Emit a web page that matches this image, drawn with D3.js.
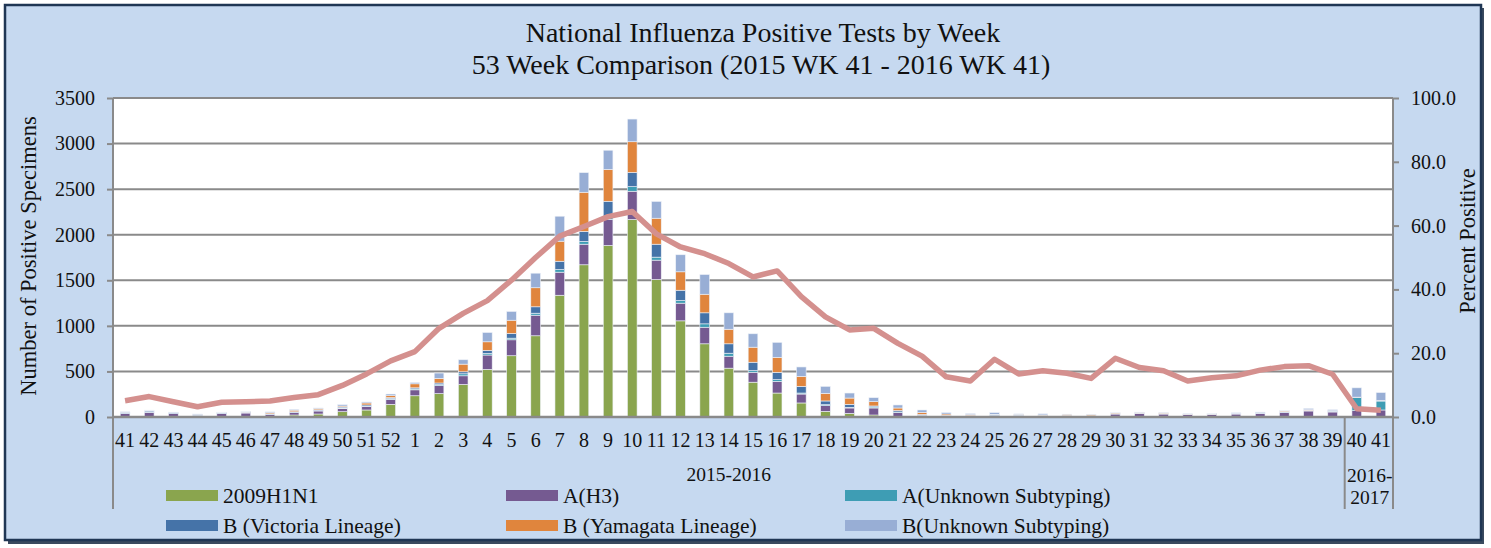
<!DOCTYPE html>
<html>
<head>
<meta charset="utf-8">
<script src="https://cdn.jsdelivr.net/npm/d3@7"></script>
<style>
body{margin:0;background:#fff;}
text{font-family:"Liberation Serif","Times New Roman",serif;fill:#111;}
</style>
</head>
<body>
<script>
// week labels, 2015 wk 41 .. 2016 wk 41
var weeks=[41,42,43,44,45,46,47,48,49,50,51,52,1,2,3,4,5,6,7,8,9,10,11,12,13,14,15,16,17,18,19,20,21,22,23,24,25,26,27,28,29,30,31,32,33,34,35,36,37,38,39,40,41];

var h1n1=[5,5,3,2,3,5,5,22,33,58,77,139,233,257,357,523,672,891,1336,1670,1882,2167,1509,1055,803,536,382,263,154,62,40,22,7,4,3,2,3,2,2,2,2,2,2,2,2,2,2,2,3,3,2,3,3];
var h3=[32,46,34,16,34,39,24,26,33,33,36,55,65,87,95,157,175,226,253,226,285,310,212,194,182,131,109,128,98,62,59,77,41,11,8,9,12,16,13,13,9,31,38,31,24,27,31,38,48,63,53,67,74];
var aUnk=[3,3,2,2,2,2,2,3,5,8,5,8,10,11,22,17,18,22,29,30,30,50,33,29,37,33,19,19,11,11,7,11,7,3,2,2,2,1,1,1,1,1,1,1,1,1,1,1,2,3,8,142,98];
var bVic=[8,12,8,6,6,8,4,6,8,11,14,10,12,18,22,33,51,70,91,110,170,156,142,113,121,103,91,80,73,41,33,11,15,11,6,4,8,3,3,2,2,2,2,2,2,2,2,3,4,5,3,4,4];
var bYam=[2,2,2,2,2,3,13,18,15,11,22,22,44,51,84,95,146,209,220,430,350,337,285,202,204,160,165,165,110,84,69,47,29,22,14,10,5,8,4,11,12,10,8,9,3,3,4,4,10,6,3,2,2];
var bUnk=[7,7,4,5,6,5,8,9,5,14,11,18,14,58,48,102,96,160,274,215,210,249,184,187,216,180,147,164,103,76,55,44,33,26,15,10,18,4,12,2,2,2,2,2,3,5,6,6,6,14,11,102,87];

var pctPos=[5.1,6.4,4.8,3.2,4.6,4.8,5.0,6.1,7.0,9.9,13.5,17.6,20.5,27.8,32.5,36.5,42.9,50.0,56.7,59.7,62.8,64.4,57.4,53.3,51.2,48.1,43.9,45.8,37.7,31.4,27.3,27.8,23.1,19.1,12.6,11.3,18.1,13.5,14.5,13.7,12.1,18.4,15.5,14.5,11.3,12.3,12.9,14.7,15.8,16.1,13.4,2.6,2.1];

var seriesNames=["2009H1N1","A(H3)","A(Unknown Subtyping)","B (Victoria Lineage)","B (Yamagata Lineage)","B(Unknown Subtyping)"];
var seriesColors=["#8aa54e","#755a91","#3e9db4","#4573a8","#e0853d","#98aed5"];
var leftTicks=[0,500,1000,1500,2000,2500,3000,3500];
var rightTicks=[0,20,40,60,80,100];
var seasons=[{label:["2015-2016"],from:0,to:50},{label:["2016-","2017"],from:51,to:52}];

var W=1491,H=548;
var plot={left:113,right:1393,top:98,bottom:417};

var svg=d3.select("body").append("svg").attr("width",W).attr("height",H);

// frame
svg.append("rect").attr("x",8).attr("y",8).attr("width",1476).attr("height",536).attr("fill","#3a4a5e");
svg.append("rect").attr("x",5).attr("y",5).attr("width",1476).attr("height",535)
	.attr("fill","#c6d9f0").attr("stroke","#1f3654").attr("stroke-width",2.5);

// title
svg.append("text").attr("x",763).attr("y",42).attr("text-anchor","middle").style("font-size","28px")
	.text("National Influenza Positive Tests by Week");
svg.append("text").attr("x",761).attr("y",74).attr("text-anchor","middle").style("font-size","28px")
	.text("53 Week Comparison (2015 WK 41 - 2016 WK 41)");

var x=d3.scaleBand().domain(d3.range(weeks.length)).range([plot.left,plot.right])
	.paddingInner(0.6).paddingOuter(0.3);
var y=d3.scaleLinear().domain([0,3500]).range([plot.bottom,plot.top]);
var yR=d3.scaleLinear().domain([0,100]).range([plot.bottom,plot.top]);

svg.append("rect").attr("x",plot.left).attr("y",plot.top).attr("width",plot.right-plot.left)
	.attr("height",plot.bottom-plot.top).attr("fill","#fff");

// gridlines
svg.append("g").selectAll("line").data(leftTicks.slice(1)).enter().append("line")
	.attr("x1",plot.left).attr("x2",plot.right)
	.attr("y1",function(d){return y(d);}).attr("y2",function(d){return y(d);})
	.attr("stroke","#8a8a8a").attr("stroke-width",2);

// stacked bars
var rows=weeks.map(function(w,i){
	return {i:i,s0:h1n1[i],s1:h3[i],s2:aUnk[i],s3:bVic[i],s4:bYam[i],s5:bUnk[i]};
});
var keys=["s0","s1","s2","s3","s4","s5"];
var stacked=d3.stack().keys(keys)(rows);

svg.append("g").selectAll("g").data(stacked).enter().append("g")
	.attr("fill",function(d,k){return seriesColors[k];})
	.selectAll("rect").data(function(d){return d;}).enter().append("rect")
	.attr("x",function(d){return x(d.data.i);})
	.attr("width",x.bandwidth())
	.attr("y",function(d){return y(d[1]);})
	.attr("height",function(d){return Math.max(0,y(d[0])-y(d[1]));})
	.attr("stroke","#eef2f8").attr("stroke-width",0.6);

// percent positive line
var line=d3.line()
	.x(function(d,i){return x(i)+x.bandwidth()/2;})
	.y(function(d){return yR(d);});
svg.append("path").datum(pctPos).attr("d",line).attr("fill","none")
	.attr("stroke","#d4908e").attr("stroke-width",5.5).attr("stroke-linejoin","round");

// axes
var axL=svg.append("g").attr("transform","translate("+plot.left+",0)")
	.call(d3.axisLeft(y).tickValues(leftTicks).tickSize(6).tickPadding(12).tickFormat(d3.format("d")));
var axR=svg.append("g").attr("transform","translate("+plot.right+",0)")
	.call(d3.axisRight(yR).tickValues(rightTicks).tickSize(6).tickPadding(12).tickFormat(d3.format(".1f")));
[axL,axR].forEach(function(a){
	a.select(".domain").remove();
	a.selectAll("line").attr("stroke","#8a8a8a").attr("stroke-width",2);
	a.selectAll("text").style("font-size","20px").attr("fill","#111");
});

// axis lines
svg.append("line").attr("x1",plot.left).attr("x2",plot.left).attr("y1",plot.top).attr("y2",509)
	.attr("stroke","#8a8a8a").attr("stroke-width",2);
svg.append("line").attr("x1",plot.right).attr("x2",plot.right).attr("y1",plot.top).attr("y2",509)
	.attr("stroke","#8a8a8a").attr("stroke-width",2);
svg.append("line").attr("x1",plot.left).attr("x2",plot.right).attr("y1",plot.bottom).attr("y2",plot.bottom)
	.attr("stroke","#8a8a8a").attr("stroke-width",2.5);

// week labels
svg.append("g").selectAll("text").data(weeks).enter().append("text")
	.attr("x",function(d,i){return x(i)+x.bandwidth()/2;})
	.attr("y",447).attr("text-anchor","middle").style("font-size","20px")
	.text(function(d){return d;});

// season labels and separator
seasons.forEach(function(s){
	var cx=(x(s.from)+x(s.to)+x.bandwidth())/2;
	s.label.forEach(function(t,j){
		svg.append("text").attr("x",cx+(s.label.length>1?1:0)).attr("y",(s.label.length>1?482:481)+j*22)
			.attr("text-anchor","middle").style("font-size","19.5px").text(t);
	});
});
var sepX=(x(50)+x(51)+x.bandwidth())/2;
svg.append("line").attr("x1",sepX).attr("x2",sepX).attr("y1",plot.bottom).attr("y2",509)
	.attr("stroke","#8a8a8a").attr("stroke-width",2);

// axis titles
svg.append("text").attr("transform","translate(36,256) rotate(-90)").attr("text-anchor","middle")
	.style("font-size","22.5px").text("Number of Positive Specimens");
svg.append("text").attr("transform","translate(1475,241) rotate(-90)").attr("text-anchor","middle")
	.style("font-size","22.5px").text("Percent Positive");

// legend
var legX=[166,506,845],legY=[496,526];
var leg=svg.append("g").selectAll("g").data(seriesNames).enter().append("g")
	.attr("transform",function(d,i){return "translate("+legX[i%3]+","+legY[Math.floor(i/3)]+")";});
leg.append("rect").attr("x",0).attr("y",-6).attr("width",52).attr("height",11)
	.attr("fill",function(d,i){return seriesColors[i];});
leg.append("text").attr("x",57).attr("y",7).style("font-size","21.5px").text(function(d){return d;});
</script>
</body>
</html>
